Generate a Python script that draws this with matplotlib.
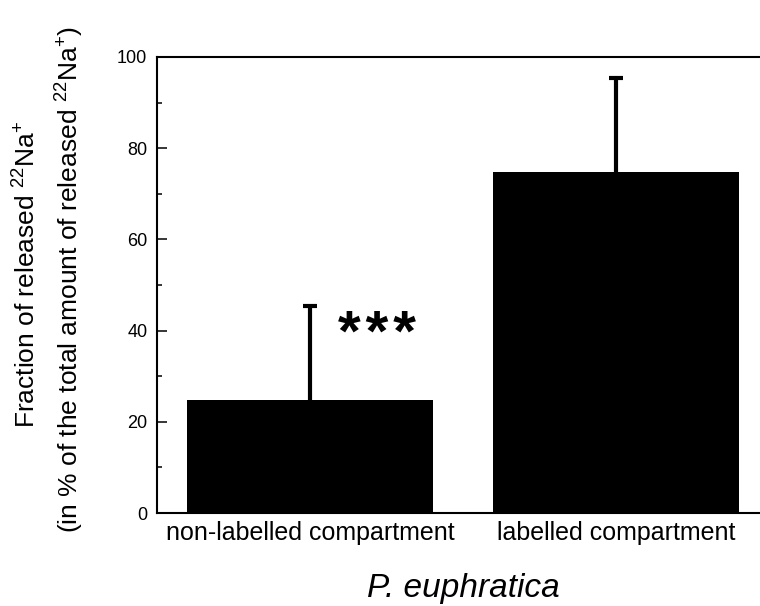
import matplotlib
matplotlib.use("Agg")
import matplotlib.pyplot as plt
from matplotlib.ticker import MultipleLocator

plt.rcParams['font.family'] = ['Liberation Sans', 'DejaVu Sans']
plt.rcParams['mathtext.fontset'] = 'custom'
plt.rcParams['mathtext.rm'] = 'Liberation Sans'
plt.rcParams['mathtext.it'] = 'Liberation Sans:italic'
plt.rcParams['mathtext.bf'] = 'Liberation Sans:bold'

# Data
categories = ["non-labelled compartment", "labelled compartment"]
fractions = [24.8, 74.8]
errors_upper = [20.7, 20.7]
y_ticks = [0, 20, 40, 60, 80, 100]

W, H = 760, 606
fig = plt.figure(figsize=(W / 100, H / 100), dpi=100)
ax = fig.add_axes([157 / W, 1 - 513 / H, (769 - 157) / W, (513 - 57) / H])

x = list(range(len(categories)))
ax.bar(x, fractions, width=0.804, color='black', edgecolor='none', zorder=2)
_, caps, bars = ax.errorbar(x, fractions, yerr=[[0] * len(x), errors_upper],
                            fmt='none', ecolor='black', elinewidth=3,
                            capsize=4.7, capthick=3, zorder=1)
# only the upper whisker gets a cap
caps[0].set_visible(False)
for c in caps:
    c.set_solid_capstyle('round')

ax.set_xlim(-0.5, 1.5)
ax.set_ylim(0, 100)
ax.set_yticks(y_ticks)
ax.yaxis.set_minor_locator(MultipleLocator(10))
ax.set_xticks(x)
ax.set_xticklabels(categories, fontsize=18)

ax.tick_params(axis='y', which='major', direction='in', length=7.2, width=1.1,
               labelsize=13, pad=7)
ax.tick_params(axis='y', which='minor', direction='in', length=3.6, width=1.1)
ax.tick_params(axis='x', length=0, pad=6)
ax.tick_params(right=False, top=False)

for side in ('left', 'top', 'bottom'):
    ax.spines[side].set_linewidth(1.5)
ax.spines['right'].set_visible(False)

ax.set_xlabel("P. euphratica", fontsize=24, style='italic', labelpad=20)

# Two-line y-axis label
fig.text(27 / W, 1 - 274 / H, r"Fraction of released $^{22}$Na$^{+}$",
         rotation=90, ha='center', va='center', fontsize=19)
fig.text(70 / W, 1 - 279 / H,
         r"(in % of the total amount of released $^{22}$Na$^{+}$)",
         rotation=90, ha='center', va='center', fontsize=19)

# Significance marker
ax.text(0.22, 35.5, "*\u200a*\u200a*", ha='center', va='baseline',
        fontsize=42, fontweight='bold')

fig.savefig("out.png", dpi=100)
